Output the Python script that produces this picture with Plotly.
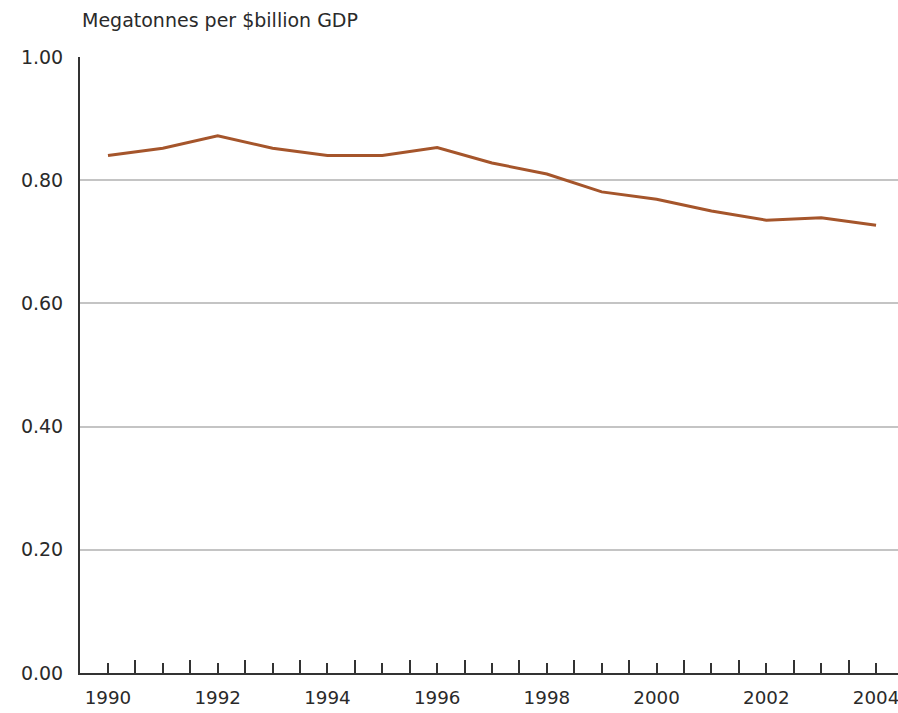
import plotly.graph_objects as go

years = list(range(1990, 2005))
values = [0.840, 0.852, 0.872, 0.852, 0.840, 0.840, 0.853, 0.828, 0.810,
          0.781, 0.769, 0.750, 0.735, 0.739, 0.727]
x_tick_vals = [1990, 1992, 1994, 1996, 1998, 2000, 2002, 2004]
y_tick_vals = [0, 0.2, 0.4, 0.6, 0.8, 1.0]
y_title = "Megatonnes per $billion GDP"

font_family = "'DejaVu Sans', sans-serif"
txt = "#2a2a2a"
fs = 19

fig = go.Figure()
fig.add_trace(go.Scatter(x=years, y=values, mode="lines",
                         line=dict(color="#A5552B", width=3), hoverinfo="skip"))

fig.update_layout(
    width=898, height=713,
    margin=dict(l=80, r=0, t=57, b=40, autoexpand=False),
    paper_bgcolor="white", plot_bgcolor="white",
    showlegend=False,
    font=dict(family=font_family, size=fs, color=txt),
    xaxis=dict(
        range=[1989.49, 2004.4], automargin=False,
        tickmode="array", tickvals=years,
        ticktext=[str(y) if y in x_tick_vals else "" for y in years],
        ticks="inside", ticklen=10, tickwidth=2, tickcolor="#333333",
        ticklabelstandoff=7, ticklabeloverflow="allow",
        showline=True, linecolor="#333333", linewidth=2,
        showgrid=False, zeroline=False,
        tickfont=dict(size=18.3, color=txt),
        minor=dict(tickmode="array", tickvals=[y + 0.5 for y in years[:-1]] + [1989.5],
                   ticks="inside", ticklen=13, tickwidth=2, tickcolor="#333333", showgrid=False),
    ),
    yaxis=dict(
        range=[0, 1.0], automargin=False,
        tickmode="array", tickvals=y_tick_vals, tickformat=".2f",
        ticks="", ticklabelstandoff=11,
        showline=True, linecolor="#333333", linewidth=2,
        showgrid=True, gridcolor="#C4C4C4", gridwidth=2,
        zeroline=False,
        tickfont=dict(size=fs, color=txt),
    ),
    annotations=[dict(text=y_title, xref="paper", yref="paper", x=0, y=1,
                      xanchor="left", yanchor="middle", yshift=37, showarrow=False,
                      font=dict(size=fs, color=txt))],
)

fig.write_html("out.html", config={"displayModeBar": False},
               post_script="document.body.style.margin='0';document.body.style.overflow='hidden';")
